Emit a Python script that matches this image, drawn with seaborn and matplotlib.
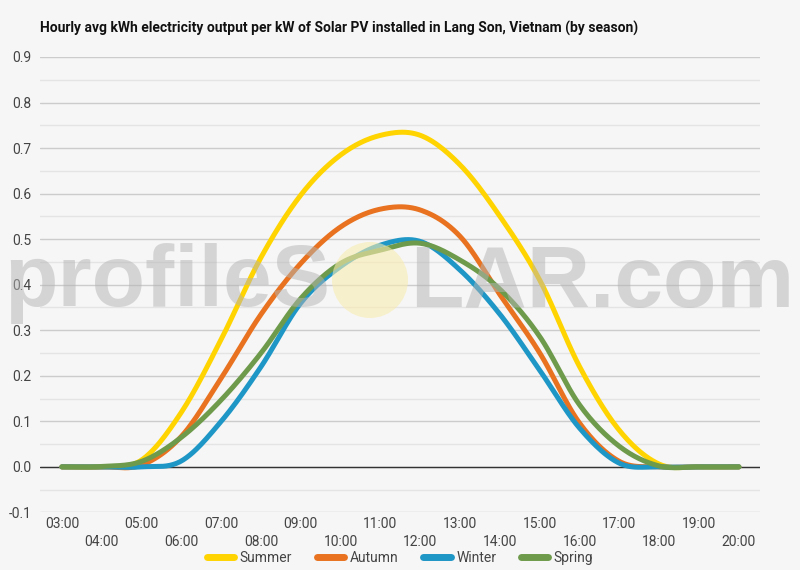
import numpy as np
import pandas as pd
import matplotlib
matplotlib.use('Agg')
import matplotlib.pyplot as plt
from matplotlib.patches import Circle
from matplotlib.ticker import MultipleLocator
import seaborn as sns

# Hourly average output (kWh per kW)
hours = list(range(3, 21))
hour_labels = [f"{h:02d}:00" for h in hours]

summer = [0.0, 0.0, 0.015, 0.12, 0.28, 0.46, 0.597, 0.685, 0.728, 0.728,
          0.663, 0.55, 0.41, 0.22, 0.08, 0.006, 0.0, 0.0]
autumn = [0.0, 0.0, 0.004, 0.067, 0.195, 0.335, 0.447, 0.527, 0.566, 0.564,
          0.506, 0.378, 0.25, 0.096, 0.012, 0.0, 0.0, 0.0]
winter = [0.0, 0.0, 0.0, 0.013, 0.10, 0.22, 0.36, 0.44, 0.487, 0.495,
          0.432, 0.335, 0.212, 0.085, 0.008, 0.0, 0.0, 0.0]
spring = [0.0, 0.001, 0.012, 0.065, 0.147, 0.25, 0.37, 0.447, 0.476, 0.491,
          0.454, 0.39, 0.286, 0.136, 0.045, 0.002, 0.0, 0.0]

seasons = ['Summer', 'Autumn', 'Winter', 'Spring']
colors = ['#FFD400', '#E8721F', '#1E96C6', '#6E9B4B']

y_ticks = [-0.1, 0.0, 0.1, 0.2, 0.3, 0.4, 0.5, 0.6, 0.7, 0.8, 0.9]

BG = '#f6f6f6'


def smooth(x, y, n=24):
    """Catmull-Rom curve through the hourly points (display smoothing only)."""
    x = np.asarray(x, float)
    y = np.asarray(y, float)
    yp = np.concatenate([[y[0]], y, [y[-1]]])
    xs, ys = [], []
    for i in range(len(y) - 1):
        p0, p1, p2, p3 = yp[i], yp[i + 1], yp[i + 2], yp[i + 3]
        t = np.linspace(0, 1, n, endpoint=False)
        ys.append(0.5 * (2 * p1 + (-p0 + p2) * t
                         + (2 * p0 - 5 * p1 + 4 * p2 - p3) * t ** 2
                         + (-p0 + 3 * p1 - 3 * p2 + p3) * t ** 3))
        xs.append(x[i] + (x[i + 1] - x[i]) * t)
    xs.append([x[-1]])
    ys.append([y[-1]])
    return np.concatenate(xs), np.concatenate(ys)


frames = []
for name, vals in zip(seasons, [summer, autumn, winter, spring]):
    sx, sy = smooth(hours, vals)
    frames.append(pd.DataFrame({'hour': sx, 'kwh': sy, 'season': name}))
df = pd.concat(frames, ignore_index=True)

sns.set_theme(style='white')
plt.rcParams['font.family'] = ['Roboto', 'DejaVu Sans']

fig = plt.figure(figsize=(8, 5.7), dpi=100, facecolor=BG)
ax = fig.add_axes([0.05, 0.101, 0.9, 0.799])
ax.set_facecolor(BG)

sns.lineplot(data=df, x='hour', y='kwh', hue='season', hue_order=seasons,
             palette=colors, linewidth=3.6, ax=ax, sort=False,
             estimator=None, zorder=3)

ax.set_xlim(2.45, 20.53)
ax.set_ylim(-0.1, 0.9)
ax.yaxis.set_major_locator(MultipleLocator(0.1))
ax.yaxis.set_minor_locator(MultipleLocator(0.05))
ax.set_yticks(y_ticks)
ax.set_yticklabels([f"{v:.1f}" for v in y_ticks])
ax.grid(axis='y', which='major', color='#cccccc', linewidth=1.0, zorder=0)
ax.grid(axis='y', which='minor', color='#e4e4e4', linewidth=1.0, zorder=0)
ax.axhline(0, color='#333333', linewidth=1.0, zorder=2)
for s in ax.spines.values():
    s.set_visible(False)

ax.set_xticks(hours)
ax.set_xticklabels(hour_labels)
ax.tick_params(axis='both', length=0, labelsize=10, colors='#444444')
ax.tick_params(axis='y', pad=6)
for i, tick in enumerate(ax.xaxis.get_major_ticks()):
    tick.set_pad(3 if i % 2 == 0 else 16)
ax.set_xlabel('')
ax.set_ylabel('')

handles, labels = ax.get_legend_handles_labels()
for h in handles:
    h.set_linewidth(5)
ax.legend(handles, labels, loc='center', bbox_to_anchor=(0.5, 1 - 558 / 570),
          bbox_transform=fig.transFigure, ncol=4, frameon=False,
          fontsize=10, handlelength=2.0, handletextpad=0.4, columnspacing=1.75,
          labelcolor='#444444')

fig.text(0.05, 1 - 28 / 570,
         'Hourly avg kWh electricity output per kW of Solar PV installed in Lang Son, Vietnam (by season)',
         ha='left', va='center', fontsize=10, fontweight='bold', color='#111111')

# profileSOLAR watermark
wm = dict(fontsize=63, fontweight='bold', color='#b4b4b4', alpha=0.5,
          zorder=10, family=['Liberation Sans', 'DejaVu Sans'])
fig.text(330 / 800, 1 - 284 / 570, 'profileS', ha='right', va='center', **wm)
fig.text(410 / 800, 1 - 284 / 570, 'LAR.com', ha='left', va='center', **wm)
sun = Circle((3.70, 5.7 - 2.80), 0.38, transform=fig.dpi_scale_trans,
             facecolor='#f9ecb0', edgecolor='none', alpha=0.6, zorder=10)
fig.add_artist(sun)

fig.savefig('out.png', dpi=100, facecolor=BG)
